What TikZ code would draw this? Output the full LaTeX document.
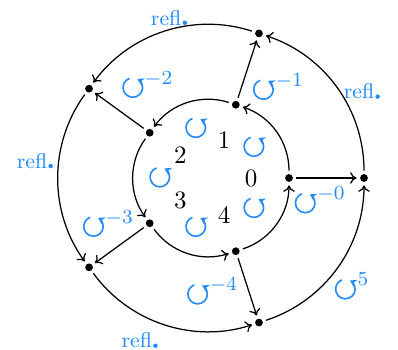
\documentclass[tikz,border=0pt]{standalone}
\usepackage{amsmath,amssymb}
\usetikzlibrary{arrows.meta,positioning,calc}
\definecolor{mBlue}{RGB}{35,140,250}
\tikzset{
  dot/.style={circle, fill=black, inner sep=0pt, minimum size=3.1pt, outer sep=1.4pt},
  flow/.style={-{To[length=2.6pt,width=4.6pt]}, line width=0.5pt},
  rotlabel/.style={text=mBlue, font=\large},
  refllabel/.style={text=mBlue, font=\fontsize{8.5}{10}\selectfont},
  numlabel/.style={font=\normalsize}
}
\newcommand{\ccwicon}{\tikz[baseline=-0.6ex]\draw[mBlue, line width=0.65pt, -{Stealth[length=2.6pt,width=3.2pt]}] (110:3.9pt) arc[start angle=110, end angle=422, radius=3.9pt];}
\newcommand{\refl}{refl\kern0.5pt\tikz[baseline=0pt]\fill[mBlue] (0,0.9pt) circle[radius=0.9pt];}

\begin{document}
\begin{tikzpicture}[x=0.4pt, y=0.4pt]
    \useasboundingbox (-212,-172) rectangle (186,178);
    % dots on the two rings, numbers and turn icons inside
    \foreach \k in {0,...,4}{
      \node[dot] (in\k) at ({72*\k}:77) {};
      \node[dot] (out\k) at ({72*\k}:152) {};
      \node[numlabel] (num\k) at ({72*\k}:39) {$\k$};
      \node[rotlabel] (rot\k) at ({72*\k+36}:52) {\ccwicon};}
    % arcs round both rings and the spokes
    \foreach \k in {0,...,4}{
      \pgfmathtruncatemacro{\n}{mod(\k+1,5)}
      \draw[flow] (in\k) to[bend right=36, looseness=0.94] (in\n);
      \draw[flow] (out\k) to[bend right=36, looseness=0.94] (out\n);
      \draw[flow] (in\k) -- (out\k);}
    \node[rotlabel] (lab0) at (-12:110) {$\ccwicon^{-0}$};
    \node[rotlabel] (lab1) at (54:112) {$\ccwicon^{-1}$};
    \node[rotlabel] (lab2) at (125:113) {$\ccwicon^{-2}$};
    \node[rotlabel] (lab3) at (204:114) {$\ccwicon^{-3}$};
    \node[rotlabel] (lab4) at (270:114) {$\ccwicon^{-4}$};
    \node[rotlabel] (lab5) at (-38:177) {$\ccwicon^{5}$};
    \node[refllabel] (refl0) at (30:173) {\refl};
    \node[refllabel] (refl1) at (105:166) {\refl};
    \node[refllabel] (refl2) at (174.5:178) {\refl};
    \node[refllabel] (refl3) at (246:178) {\refl};
  \end{tikzpicture}
\end{document}
